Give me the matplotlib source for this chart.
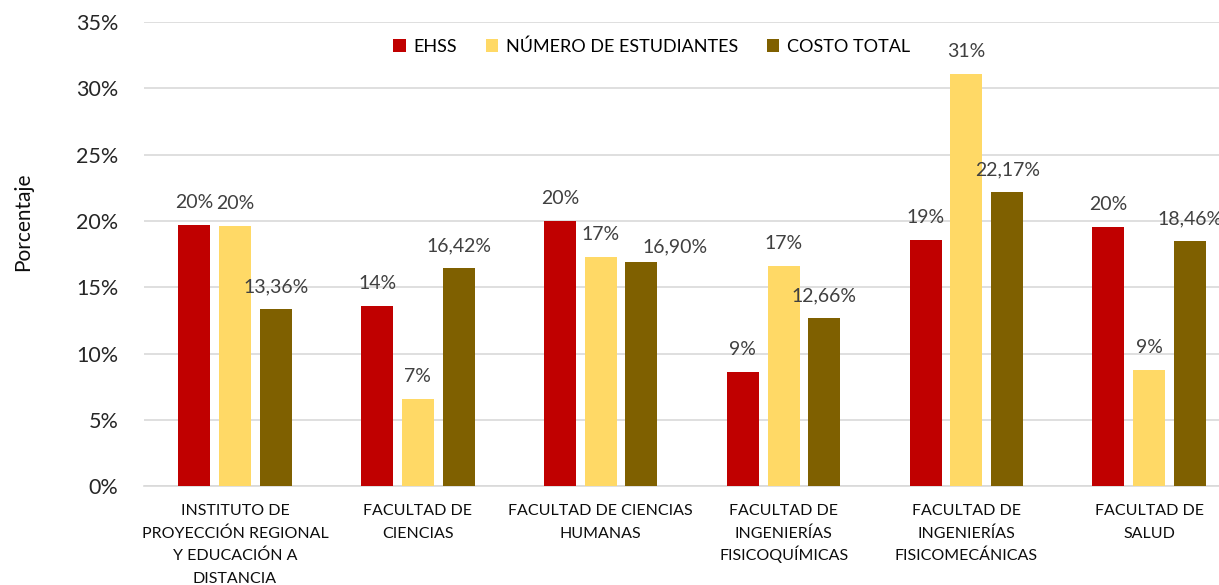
import matplotlib.pyplot as plt
import numpy as np

plt.rcParams['font.family'] = ['Lato', 'DejaVu Sans']

categorias = ['INSTITUTO DE\nPROYECCIÓN REGIONAL\nY EDUCACIÓN A\nDISTANCIA',
              'FACULTAD DE\nCIENCIAS',
              'FACULTAD DE CIENCIAS\nHUMANAS',
              'FACULTAD DE\nINGENIERÍAS\nFISICOQUÍMICAS',
              'FACULTAD DE\nINGENIERÍAS\nFISICOMECÁNICAS',
              'FACULTAD DE\nSALUD']
ehss = [19.68, 13.56, 20.02, 8.60, 18.54, 19.55]
num_estudiantes = [19.62, 6.60, 17.28, 16.58, 31.05, 8.73]
costo_total = [13.36, 16.42, 16.90, 12.66, 22.17, 18.46]

series = [('EHSS', ehss, '#C00000', '{:.0f}%'),
          ('NÚMERO DE ESTUDIANTES', num_estudiantes, '#FFD966', '{:.0f}%'),
          ('COSTO TOTAL', costo_total, '#7F6000', '{:.2f}%')]

# etiqueta que Excel desplaza para no chocar con la vecina (serie, categoria)
desplazadas = {(2, 2): (24, 5)}

fig = plt.figure(figsize=(12.19, 5.85), dpi=100)
ax = fig.add_axes([0.1178, 0.169, 0.9, 0.7935])

x = np.arange(len(categorias))
ancho = 0.175
paso = 0.223
for i, (nombre, vals, color, fmt) in enumerate(series):
    pos = x + (i - 1) * paso
    barras = ax.bar(pos, vals, ancho, color=color, label=nombre, zorder=3)
    for k, (b, v) in enumerate(zip(barras, vals)):
        txt = fmt.format(v).replace('.', ',')
        ax.annotate(txt, (b.get_x() + b.get_width() / 2, v),
                    xytext=desplazadas.get((i, k), (0, 10)), textcoords='offset points',
                    ha='center', va='bottom', fontsize=14, color='#404040')

ax.set_ylim(0, 35)
ax.set_xlim(-0.5, len(categorias) - 0.5)
ax.set_yticks(range(0, 36, 5))
ax.set_yticklabels([f'{t}%' for t in range(0, 36, 5)], fontsize=15.5, color='#262626')
ax.set_xticks(x)
ax.set_xticklabels([])
# etiquetas de categoria linea por linea para un interlineado parejo
for xi, cat in zip(x, categorias):
    for j, linea in enumerate(cat.split('\n')):
        ax.annotate(linea, (xi, 0), xytext=(0, -21 - j * 16.2), textcoords='offset points',
                    ha='center', va='baseline', fontsize=11.5, color='#0D0D0D',
                    annotation_clip=False)
ax.tick_params(axis='both', length=0)
ax.tick_params(axis='y', pad=18)
ax.grid(axis='y', color='#D9D9D9', linewidth=1.2, zorder=0)
for s in ['top', 'right', 'left']:
    ax.spines[s].set_visible(False)
ax.spines['bottom'].set_color('#D9D9D9')
ax.spines['bottom'].set_linewidth(1.2)
ax.set_ylabel('Porcentaje', fontsize=15, color='#0D0D0D')
ax.yaxis.set_label_coords(-0.101, 0.569)

ax.legend(loc='upper center', bbox_to_anchor=(0.463, 1.0), ncol=3, frameon=False,
          fontsize=13, handlelength=0.7, handleheight=0.7, handletextpad=0.4,
          columnspacing=1.6)

fig.savefig('out.png', dpi=100)
